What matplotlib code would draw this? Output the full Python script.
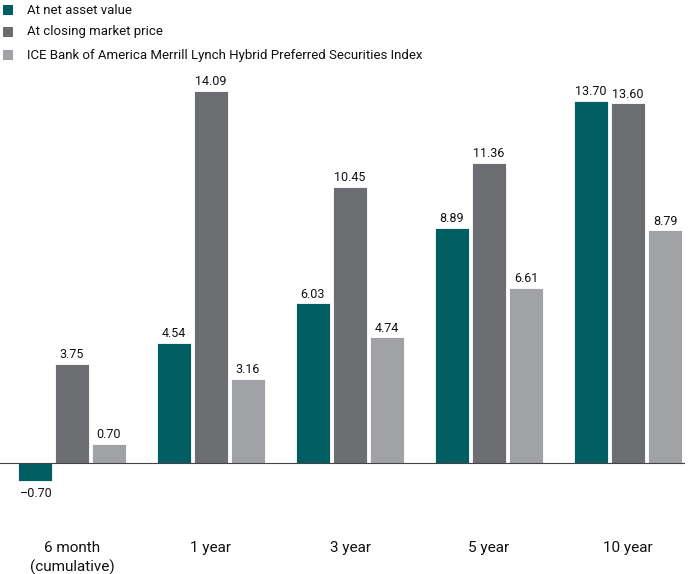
import matplotlib
matplotlib.use("Agg")
import matplotlib.pyplot as plt
from matplotlib.patches import Rectangle
import matplotlib.transforms as mtransforms

categories = ["6 month\n(cumulative)", "1 year", "3 year", "5 year", "10 year"]
series_names = ["At net asset value", "At closing market price",
                "ICE Bank of America Merrill Lynch Hybrid Preferred Securities Index"]
nav = [-0.70, 4.54, 6.03, 8.89, 13.70]
market = [3.75, 14.09, 10.45, 11.36, 13.60]
index_vals = [0.70, 3.16, 4.74, 6.61, 8.79]
colors = ["#005e63", "#6d6e72", "#a1a2a5"]

plt.rcParams['font.family'] = ['Roboto', 'DejaVu Sans']

W, H = 700, 574
fig = plt.figure(figsize=(7.0, 5.74), dpi=100)

def fx(px):
    return px / W

def fy(py):
    return 1 - py / H

# axes geometry in pixels
ax_left, ax_right, ax_top, ax_bot = 0, 685, 75, 490
ax = fig.add_axes([fx(ax_left), fy(ax_bot), fx(ax_right - ax_left), (ax_bot - ax_top) / H])
ppu = 26.4
zero_px = 462.5
ax.set_ylim(-(ax_bot - zero_px) / ppu, (zero_px - ax_top) / ppu)
gsp = 139.0
c0 = 72.0
ax.set_xlim((ax_left - c0) / gsp, (ax_right - c0) / gsp)

bw = 34 / gsp
off = 37 / gsp
allseries = [nav, market, index_vals]
for k, vals in enumerate(allseries):
    for i, v in enumerate(vals):
        x = i + (k - 1) * off
        ax.bar(x, v, width=bw, color=colors[k], edgecolor="white", linewidth=0.6, zorder=2)
        lab = f"{v:.2f}".replace("-", "\u2013")
        if v >= 0:
            ax.annotate(lab, (x, v), xytext=(0, 2), textcoords="offset points",
                        ha="center", va="bottom", fontsize=9, color="#111111")
        else:
            ax.annotate(lab, (x, v), xytext=(0, -4), textcoords="offset points",
                        ha="center", va="top", fontsize=9, color="#111111")

ax.axhline(0, color="#444444", linewidth=0.8, zorder=3)
for s in ax.spines.values():
    s.set_visible(False)
ax.set_xticks([])
ax.set_yticks([])
ax.patch.set_alpha(0)

trans = mtransforms.blended_transform_factory(ax.transData, fig.transFigure)
for i, c in enumerate(categories):
    for j, line in enumerate(c.split("\n")):
        ax.text(i, fy(552 + 20 * j), line, transform=trans, ha="center", va="baseline",
                fontsize=11, color="#111111")

# legend
rows = [10, 32, 55]
for k, name in enumerate(series_names):
    y = rows[k]
    fig.patches.append(Rectangle((fx(3), fy(y + 5)), fx(10), 10 / H, transform=fig.transFigure,
                                 facecolor=colors[k], edgecolor="none"))
    fig.text(fx(27), fy(y), name, ha="left", va="center", fontsize=9.5, color="#111111")

fig.savefig("out.png", dpi=100)
